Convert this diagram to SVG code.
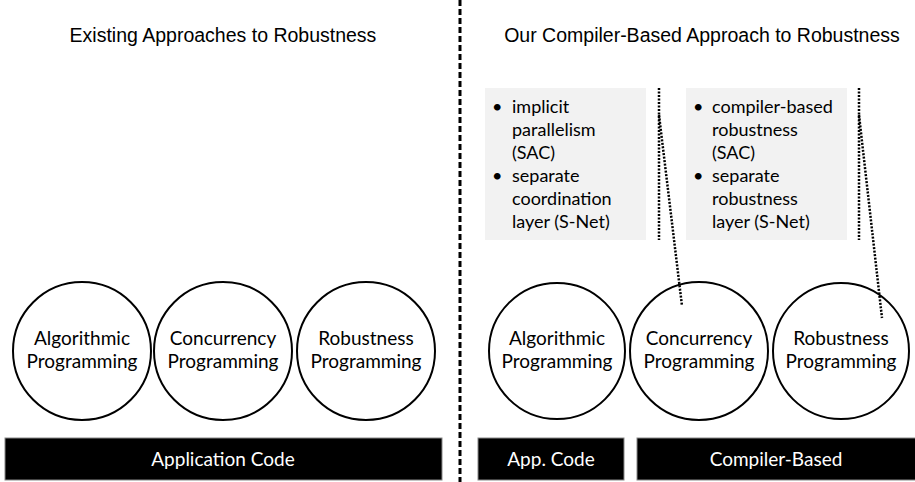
<svg xmlns="http://www.w3.org/2000/svg" width="915" height="482" viewBox="0 0 915 482">
<style>
.title{font-family:"Liberation Sans",Arial,sans-serif;font-size:19.5px;fill:#000;text-anchor:middle}
.ct{font-family:Lato,"Open Sans",sans-serif;font-size:19px;fill:#000;text-anchor:middle}
.bt{font-family:Lato,"Open Sans",sans-serif;font-size:19px;fill:#fff;text-anchor:middle}
.lt{font-family:Lato,"Open Sans",sans-serif;font-size:18px;fill:#000}
.circ{fill:#fff;stroke:#000;stroke-width:2}
.bar{fill:#000;stroke:#888;stroke-width:1}
.box{fill:#f2f2f2}
.dot{fill:none;stroke:#000;stroke-width:2.5;stroke-dasharray:2 1.5}
</style>
<rect width="915" height="482" fill="#fff"/>
<g id="divider"><line x1="460" y1="0" x2="460" y2="482" stroke="#000" stroke-width="3" stroke-dasharray="6 3"/></g>
<g id="title-left"><text class="title" x="223" y="42">Existing Approaches to Robustness</text></g>
<g id="title-right"><text class="title" x="702" y="42">Our Compiler-Based Approach to Robustness</text></g>
<g id="box-sac">
<rect class="box" x="485" y="88" width="161" height="152"/>
<text class="lt"><tspan x="492" y="113">•</tspan><tspan x="512" y="113">implicit</tspan><tspan x="512" y="136">parallelism</tspan><tspan x="512" y="159">(SAC)</tspan><tspan x="492" y="182">•</tspan><tspan x="512" y="182">separate</tspan><tspan x="512" y="205">coordination</tspan><tspan x="512" y="228">layer (S-Net)</tspan></text>
</g>
<g id="box-robust">
<rect class="box" x="686" y="88" width="161" height="152"/>
<text class="lt"><tspan x="693" y="113">•</tspan><tspan x="712" y="113">compiler-based</tspan><tspan x="712" y="136">robustness</tspan><tspan x="712" y="159">(SAC)</tspan><tspan x="693" y="182">•</tspan><tspan x="712" y="182">separate</tspan><tspan x="712" y="205">robustness</tspan><tspan x="712" y="228">layer (S-Net)</tspan></text>
</g>
<g id="l-algo"><circle class="circ" cx="82" cy="351" r="69"/><text class="ct" x="82" y="345">Algorithmic</text><text class="ct" x="82" y="368">Programming</text></g>
<g id="l-conc"><circle class="circ" cx="223" cy="351" r="69"/><text class="ct" x="223" y="345">Concurrency</text><text class="ct" x="223" y="368">Programming</text></g>
<g id="l-rob"><circle class="circ" cx="366" cy="351" r="69"/><text class="ct" x="366" y="345">Robustness</text><text class="ct" x="366" y="368">Programming</text></g>
<g id="r-algo"><circle class="circ" cx="557" cy="351" r="68"/><text class="ct" x="557" y="345">Algorithmic</text><text class="ct" x="557" y="368">Programming</text></g>
<g id="r-conc"><circle class="circ" cx="699" cy="351" r="69"/><text class="ct" x="699" y="345">Concurrency</text><text class="ct" x="699" y="368">Programming</text></g>
<g id="r-rob"><circle class="circ" cx="841" cy="351" r="68"/><text class="ct" x="841" y="345">Robustness</text><text class="ct" x="841" y="368">Programming</text></g>
<g id="bar-app"><rect class="bar" x="5" y="438" width="437" height="42"/><text class="bt" x="223" y="466">Application Code</text></g>
<g id="bar-app2"><rect class="bar" x="478" y="438" width="146" height="42"/><text class="bt" x="551" y="466">App. Code</text></g>
<g id="bar-compiler"><rect class="bar" x="637" y="438" width="280" height="42"/><text class="bt" x="776" y="466">Compiler-Based</text></g>
<g id="connectors">
<line class="dot" x1="659" y1="88" x2="659" y2="240"/>
<line class="dot" x1="659" y1="115" x2="682" y2="306"/>
<line class="dot" x1="859" y1="88" x2="859" y2="240"/>
<line class="dot" x1="859" y1="115" x2="882" y2="318"/>
</g>
</svg>
